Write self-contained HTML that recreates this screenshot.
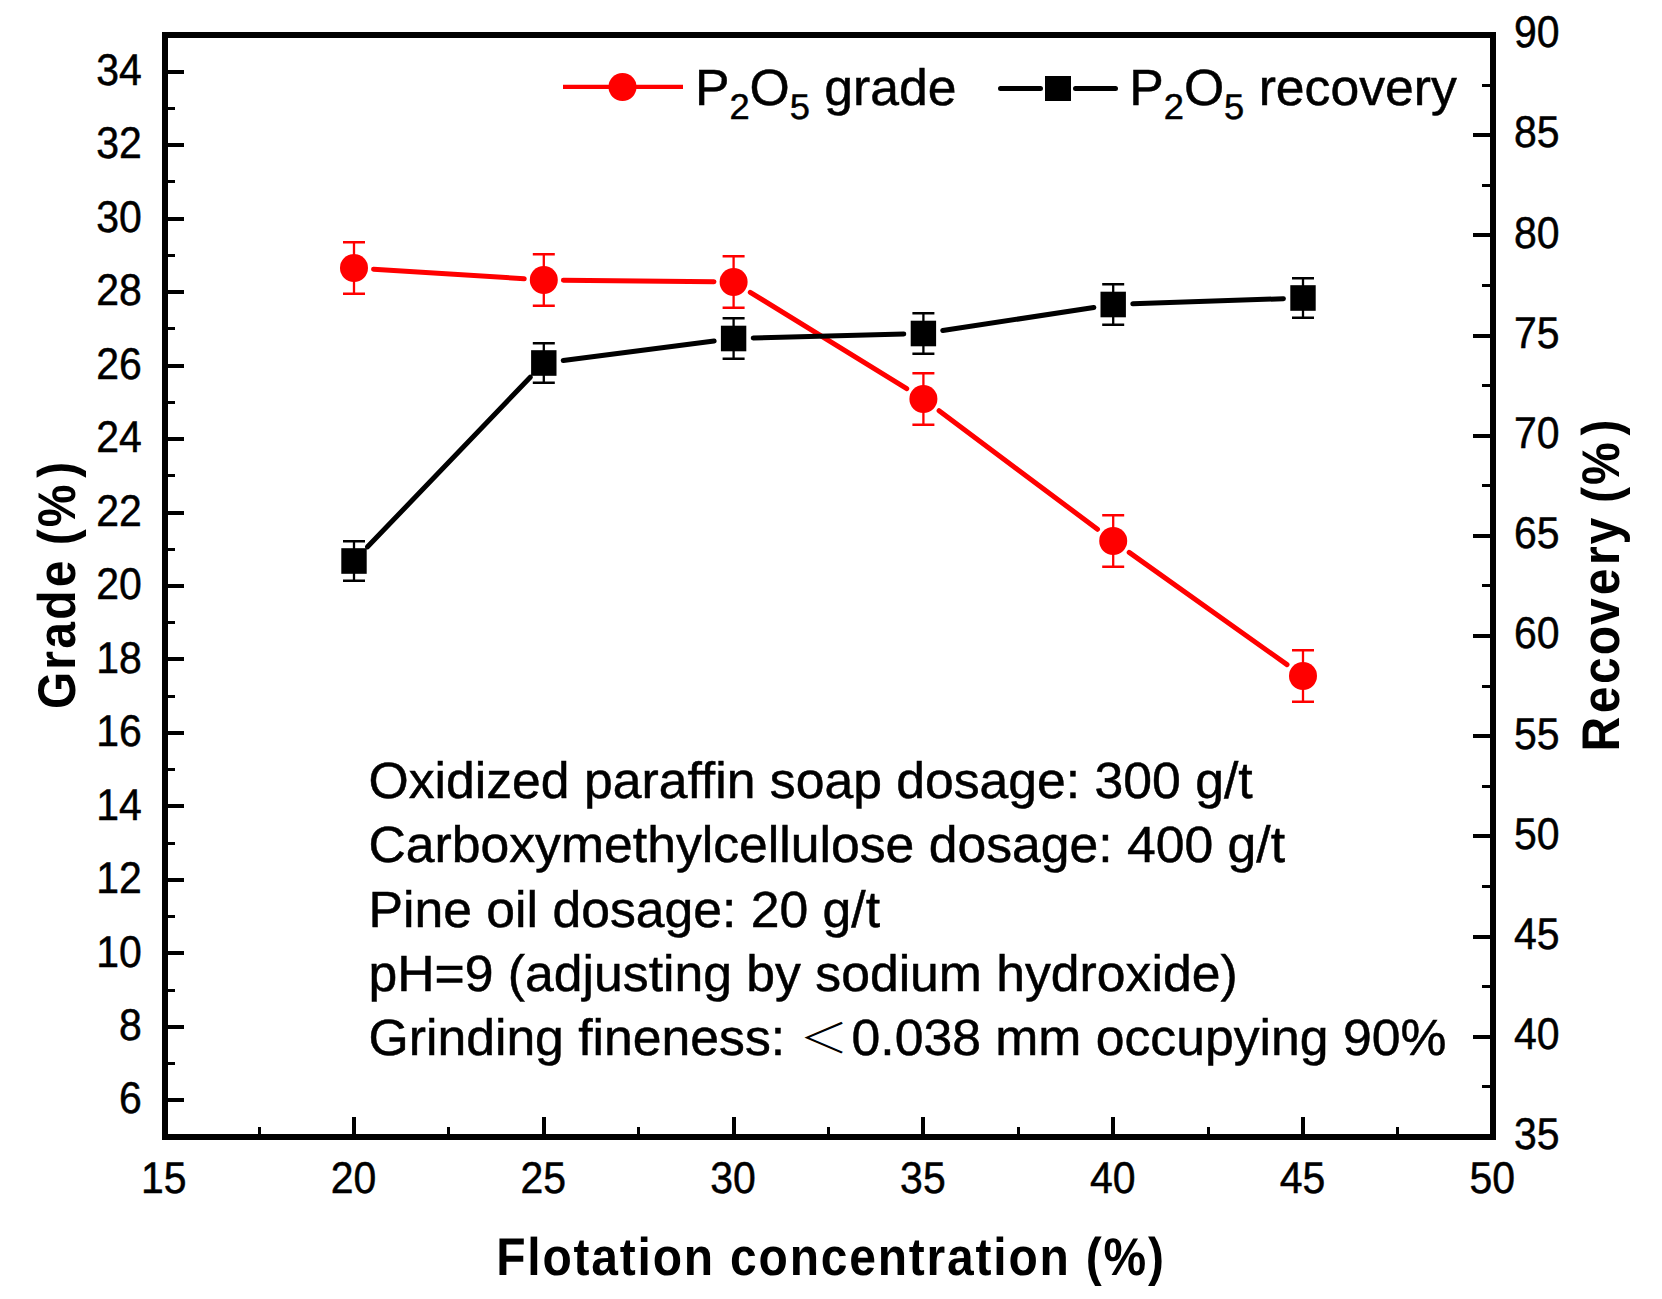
<!DOCTYPE html>
<html lang="en"><head><meta charset="utf-8"><title>Flotation concentration chart</title>
<style>html,body{margin:0;padding:0;background:#fff}body{width:1662px;height:1299px;overflow:hidden}svg{display:block}</style>
</head><body>
<svg width="1662" height="1299" viewBox="0 0 1662 1299" font-family="'Liberation Sans', sans-serif" text-rendering="geometricPrecision">
<rect width="1662" height="1299" fill="#fff"/>
<g fill="#000" shape-rendering="crispEdges">
<rect x="165" y="1098" width="19" height="4"/>
<rect x="165" y="1025" width="19" height="4"/>
<rect x="165" y="951" width="19" height="4"/>
<rect x="165" y="878" width="19" height="4"/>
<rect x="165" y="804" width="19" height="4"/>
<rect x="165" y="731" width="19" height="4"/>
<rect x="165" y="657" width="19" height="4"/>
<rect x="165" y="584" width="19" height="4"/>
<rect x="165" y="511" width="19" height="4"/>
<rect x="165" y="437" width="19" height="4"/>
<rect x="165" y="364" width="19" height="4"/>
<rect x="165" y="290" width="19" height="4"/>
<rect x="165" y="217" width="19" height="4"/>
<rect x="165" y="143" width="19" height="4"/>
<rect x="165" y="70" width="19" height="4"/>
<rect x="165" y="1062" width="10" height="3"/>
<rect x="165" y="989" width="10" height="3"/>
<rect x="165" y="915" width="10" height="3"/>
<rect x="165" y="842" width="10" height="3"/>
<rect x="165" y="768" width="10" height="3"/>
<rect x="165" y="695" width="10" height="3"/>
<rect x="165" y="621" width="10" height="3"/>
<rect x="165" y="548" width="10" height="3"/>
<rect x="165" y="474" width="10" height="3"/>
<rect x="165" y="401" width="10" height="3"/>
<rect x="165" y="327" width="10" height="3"/>
<rect x="165" y="254" width="10" height="3"/>
<rect x="165" y="180" width="10" height="3"/>
<rect x="165" y="107" width="10" height="3"/>
<rect x="1473" y="1035" width="20" height="4"/>
<rect x="1473" y="935" width="20" height="4"/>
<rect x="1473" y="834" width="20" height="4"/>
<rect x="1473" y="734" width="20" height="4"/>
<rect x="1473" y="634" width="20" height="4"/>
<rect x="1473" y="534" width="20" height="4"/>
<rect x="1473" y="434" width="20" height="4"/>
<rect x="1473" y="334" width="20" height="4"/>
<rect x="1473" y="233" width="20" height="4"/>
<rect x="1473" y="133" width="20" height="4"/>
<rect x="1482" y="1085" width="11" height="3"/>
<rect x="1482" y="985" width="11" height="3"/>
<rect x="1482" y="885" width="11" height="3"/>
<rect x="1482" y="785" width="11" height="3"/>
<rect x="1482" y="685" width="11" height="3"/>
<rect x="1482" y="584" width="11" height="3"/>
<rect x="1482" y="484" width="11" height="3"/>
<rect x="1482" y="384" width="11" height="3"/>
<rect x="1482" y="284" width="11" height="3"/>
<rect x="1482" y="184" width="11" height="3"/>
<rect x="1482" y="84" width="11" height="3"/>
<rect x="352" y="1117" width="4" height="20"/>
<rect x="542" y="1117" width="4" height="20"/>
<rect x="732" y="1117" width="4" height="20"/>
<rect x="921" y="1117" width="4" height="20"/>
<rect x="1111" y="1117" width="4" height="20"/>
<rect x="1301" y="1117" width="4" height="20"/>
<rect x="258" y="1127" width="3" height="10"/>
<rect x="447" y="1127" width="3" height="10"/>
<rect x="637" y="1127" width="3" height="10"/>
<rect x="827" y="1127" width="3" height="10"/>
<rect x="1017" y="1127" width="3" height="10"/>
<rect x="1207" y="1127" width="3" height="10"/>
<rect x="1396" y="1127" width="3" height="10"/>
<path fill-rule="evenodd" d="M162,32H1496V1140H162ZM168,38V1134H1490V38Z"/>
</g>
<g font-size="44.3" fill="#000" stroke="#000" stroke-width="0.5">
<text transform="translate(141.80,1113.47) scale(0.925,1)" text-anchor="end">6</text>
<text transform="translate(141.80,1040.00) scale(0.925,1)" text-anchor="end">8</text>
<text transform="translate(141.80,966.53) scale(0.925,1)" text-anchor="end">10</text>
<text transform="translate(141.80,893.07) scale(0.925,1)" text-anchor="end">12</text>
<text transform="translate(141.80,819.60) scale(0.925,1)" text-anchor="end">14</text>
<text transform="translate(141.80,746.13) scale(0.925,1)" text-anchor="end">16</text>
<text transform="translate(141.80,672.67) scale(0.925,1)" text-anchor="end">18</text>
<text transform="translate(141.80,599.20) scale(0.925,1)" text-anchor="end">20</text>
<text transform="translate(141.80,525.73) scale(0.925,1)" text-anchor="end">22</text>
<text transform="translate(141.80,452.27) scale(0.925,1)" text-anchor="end">24</text>
<text transform="translate(141.80,378.80) scale(0.925,1)" text-anchor="end">26</text>
<text transform="translate(141.80,305.33) scale(0.925,1)" text-anchor="end">28</text>
<text transform="translate(141.80,231.87) scale(0.925,1)" text-anchor="end">30</text>
<text transform="translate(141.80,158.40) scale(0.925,1)" text-anchor="end">32</text>
<text transform="translate(141.80,84.93) scale(0.925,1)" text-anchor="end">34</text>
<text transform="translate(1514.00,1149.30) scale(0.925,1)" text-anchor="start">35</text>
<text transform="translate(1514.00,1049.12) scale(0.925,1)" text-anchor="start">40</text>
<text transform="translate(1514.00,948.94) scale(0.925,1)" text-anchor="start">45</text>
<text transform="translate(1514.00,848.75) scale(0.925,1)" text-anchor="start">50</text>
<text transform="translate(1514.00,748.57) scale(0.925,1)" text-anchor="start">55</text>
<text transform="translate(1514.00,648.39) scale(0.925,1)" text-anchor="start">60</text>
<text transform="translate(1514.00,548.21) scale(0.925,1)" text-anchor="start">65</text>
<text transform="translate(1514.00,448.03) scale(0.925,1)" text-anchor="start">70</text>
<text transform="translate(1514.00,347.85) scale(0.925,1)" text-anchor="start">75</text>
<text transform="translate(1514.00,247.66) scale(0.925,1)" text-anchor="start">80</text>
<text transform="translate(1514.00,147.48) scale(0.925,1)" text-anchor="start">85</text>
<text transform="translate(1514.00,47.30) scale(0.925,1)" text-anchor="start">90</text>
<text transform="translate(163.70,1192.60) scale(0.925,1)" text-anchor="middle">15</text>
<text transform="translate(353.50,1192.60) scale(0.925,1)" text-anchor="middle">20</text>
<text transform="translate(543.30,1192.60) scale(0.925,1)" text-anchor="middle">25</text>
<text transform="translate(733.10,1192.60) scale(0.925,1)" text-anchor="middle">30</text>
<text transform="translate(922.90,1192.60) scale(0.925,1)" text-anchor="middle">35</text>
<text transform="translate(1112.70,1192.60) scale(0.925,1)" text-anchor="middle">40</text>
<text transform="translate(1302.50,1192.60) scale(0.925,1)" text-anchor="middle">45</text>
<text transform="translate(1492.30,1192.60) scale(0.925,1)" text-anchor="middle">50</text>
</g>
<path d="M354.00,242.25V293.75M543.80,254.25V305.75M733.60,256.25V307.75M923.40,373.25V424.75M1113.20,515.25V566.75M1303.00,650.25V701.75" stroke="#f00" stroke-width="2.3" fill="none"/>
<path d="M343.00,242.25h22M343.00,293.75h22M532.80,254.25h22M532.80,305.75h22M722.60,256.25h22M722.60,307.75h22M912.40,373.25h22M912.40,424.75h22M1102.20,515.25h22M1102.20,566.75h22M1292.00,650.25h22M1292.00,701.75h22" stroke="#f00" stroke-width="2.5" fill="none"/>
<path d="M373.56,269.24L524.24,278.76M563.40,280.21L714.00,281.79M750.28,292.29L906.72,388.71M939.09,410.74L1097.51,529.26M1129.17,552.36L1287.03,664.64" stroke="#f00" stroke-width="5.0" stroke-linecap="round" fill="none"/>
<circle cx="354.00" cy="268.00" r="14" fill="#f00"/>
<circle cx="543.80" cy="280.00" r="14" fill="#f00"/>
<circle cx="733.60" cy="282.00" r="14" fill="#f00"/>
<circle cx="923.40" cy="399.00" r="14" fill="#f00"/>
<circle cx="1113.20" cy="541.00" r="14" fill="#f00"/>
<circle cx="1303.00" cy="676.00" r="14" fill="#f00"/>
<path d="M354.00,541.25V580.75M543.80,343.25V382.75M733.60,318.25V358.75M923.40,313.25V353.75M1113.20,284.25V324.75M1303.00,278.25V317.75" stroke="#000" stroke-width="2.3" fill="none"/>
<path d="M343.00,541.25h22M343.00,580.75h22M532.80,343.25h22M532.80,382.75h22M722.60,318.25h22M722.60,358.75h22M912.40,313.25h22M912.40,353.75h22M1102.20,284.25h22M1102.20,324.75h22M1292.00,278.25h22M1292.00,317.75h22" stroke="#000" stroke-width="2.5" fill="none"/>
<path d="M367.56,546.85L530.24,377.15M563.24,360.49L714.16,341.01M753.19,337.98L903.81,334.02M942.78,330.54L1093.82,307.46M1132.79,303.83L1283.41,298.67" stroke="#000" stroke-width="5.0" stroke-linecap="round" fill="none"/>
<rect x="341.30" y="548.20" width="25.4" height="25.6" fill="#000"/>
<rect x="531.10" y="350.20" width="25.4" height="25.6" fill="#000"/>
<rect x="720.90" y="325.70" width="25.4" height="25.6" fill="#000"/>
<rect x="910.70" y="320.70" width="25.4" height="25.6" fill="#000"/>
<rect x="1100.50" y="291.70" width="25.4" height="25.6" fill="#000"/>
<rect x="1290.30" y="285.20" width="25.4" height="25.6" fill="#000"/>
<path d="M563,86.9H683" stroke="#f00" stroke-width="4.4" fill="none"/>
<circle cx="622.5" cy="87" r="14" fill="#f00"/>
<path d="M1000.5,88.45H1040.5M1075.5,88.45H1115.5" stroke="#000" stroke-width="5" stroke-linecap="round" fill="none"/>
<rect x="1045" y="76" width="26" height="25" fill="#000"/>
<g font-size="51" fill="#000" stroke="#000" stroke-width="0.5">
<text transform="translate(694.9,104.8) scale(1.0135,1)">P<tspan font-size="35.8" dy="14">2</tspan><tspan dy="-14">O</tspan><tspan font-size="35.8" dy="14">5</tspan><tspan dy="-14"> grade</tspan></text>
<text transform="translate(1129.2,104.8) scale(1.0135,1)">P<tspan font-size="35.8" dy="14">2</tspan><tspan dy="-14">O</tspan><tspan font-size="35.8" dy="14">5</tspan><tspan dy="-14"> recovery</tspan></text>
<text transform="translate(368.5,798) scale(1.0135,1)">Oxidized paraffin soap dosage: 300 g/t</text>
<text transform="translate(368.5,862.3) scale(1.0135,1)">Carboxymethylcellulose dosage: 400 g/t</text>
<text transform="translate(368.5,926.5) scale(1.0135,1)">Pine oil dosage: 20 g/t</text>
<text transform="translate(368.5,991) scale(1.0135,1)">pH=9 (adjusting by sodium hydroxide)</text>
<text transform="translate(368.5,1055) scale(1.0135,1)">Grinding fineness: </text>
<text transform="translate(799.5,1052.6) scale(0.96,0.805)" font-family="'Liberation Sans', 'Noto Sans CJK SC', sans-serif" font-weight="300" stroke="none">＜</text>
<text transform="translate(851.6,1055) scale(1.0135,1)">0.038 mm occupying 90%</text>
</g>
<g font-size="53" font-weight="bold" fill="#000" text-anchor="middle" letter-spacing="2.0">
<text transform="translate(831,1274.7) scale(0.905,1)">Flotation concentration (%)</text>
<text transform="translate(74.5,708.9) rotate(-90) scale(0.905,1)" text-anchor="start" dx="0 0 0.55 0.55 1.55 0 -1.8 0.2 5.7">Grade (%)</text>
<text transform="translate(1619.3,751.4) rotate(-90) scale(0.905,1)" text-anchor="start" dx="0 2 0.7 0.4 -1.1 1.3 2.2 -0.2 0 -2.3 0.2 5.5">Recovery (%)</text>
</g>
</svg>
</body></html>
